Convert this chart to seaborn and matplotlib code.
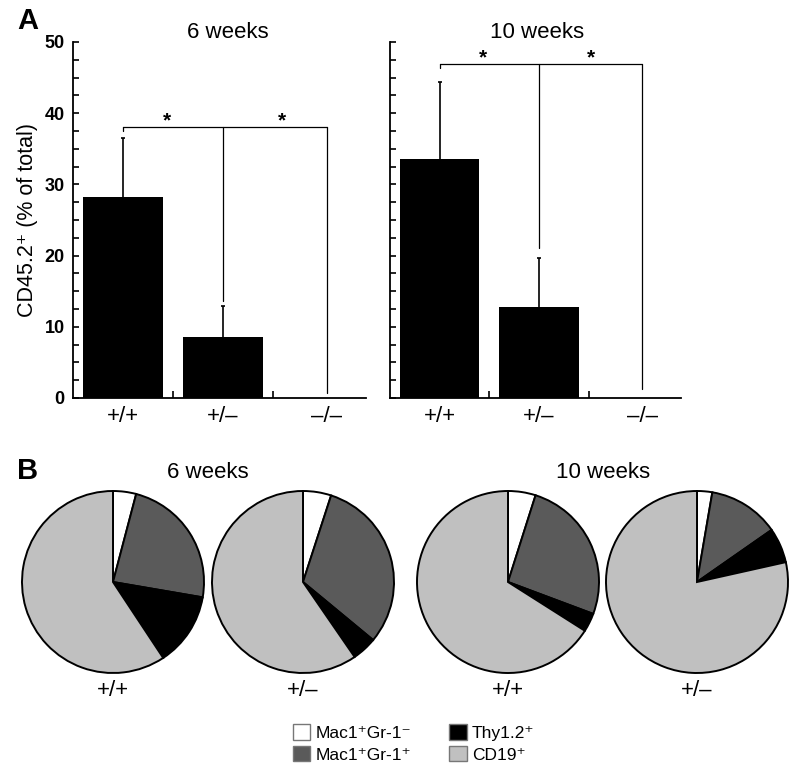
import matplotlib
matplotlib.use("Agg")
import matplotlib.pyplot as plt
import seaborn as sns
from matplotlib.patches import Patch
from matplotlib.ticker import MultipleLocator, FixedLocator

# ---------------- data ----------------
genotypes = ["+/+", "+/–", "–/–"]
week_titles = ["6 weeks", "10 weeks"]

cd45_6wk = [28.3, 8.5, 0.0]
err_6wk = [8.2, 4.4, 0.0]
cd45_10wk = [33.6, 12.8, 0.0]
err_10wk = [10.8, 6.9, 0.0]

# significance brackets: bracket height, arm bottoms, star height
bracket_y = [38.1, 46.9]
arm_bottoms_6wk = [37.5, 13.6, 0.7]
arm_bottoms_10wk = [46.3, 21.0, 1.2]
star_y = [38.9, 47.8]

pie_genotypes = ["+/+", "+/–", "+/+", "+/–"]
subsets = ["Mac1⁺Gr-1⁻", "Mac1⁺Gr-1⁺", "Thy1.2⁺", "CD19⁺"]
pie_6wk_wt = [4.1, 23.6, 13.0, 59.3]
pie_6wk_het = [5.0, 31.0, 4.4, 59.6]
pie_10wk_wt = [4.9, 25.8, 3.3, 66.0]
pie_10wk_het = [2.7, 12.6, 6.2, 78.5]
pie_colors = ["#ffffff", "#5a5a5a", "#000000", "#c0c0c0"]

# ---------------- style ----------------
sns.set_theme(style="white")
plt.rcParams["font.family"] = ["Liberation Sans", "DejaVu Sans"]
plt.rcParams["axes.edgecolor"] = "black"
plt.rcParams["text.color"] = "black"
plt.rcParams["xtick.color"] = "black"
plt.rcParams["ytick.color"] = "black"

W, H = 798, 783
fig = plt.figure(figsize=(W / 100, H / 100), dpi=100)
fig.patch.set_facecolor("white")


def rect(x0, y0, x1, y1):
    return [x0 / W, 1 - y1 / H, (x1 - x0) / W, (y1 - y0) / H]


def fx(x):
    return x / W


def fy(y):
    return 1 - y / H


# ---------------- panel A ----------------
bar_sets = [(cd45_6wk, err_6wk, arm_bottoms_6wk), (cd45_10wk, err_10wk, arm_bottoms_10wk)]
axes_rects = [rect(73, 42, 366, 398), rect(390, 42, 681, 398)]
star_x = [[0.44, 1.59], [0.44, 1.52]]
right_arm_x = 2.04

for k, ((vals, errs, arms), r) in enumerate(zip(bar_sets, axes_rects)):
    ax = fig.add_axes(r)
    sns.barplot(x=genotypes, y=vals, ax=ax, color="black", saturation=1,
                width=0.8, errorbar=None, linewidth=0)
    for i, (v, e) in enumerate(zip(vals, errs)):
        if e > 0:
            _, caps, _ = ax.errorbar(i, v, yerr=[[0], [e]], fmt="none", ecolor="black",
                                     elinewidth=1.2, capsize=1.5, capthick=1.2)
            for c in caps:
                if c.get_ydata()[0] <= v + 1e-9:
                    c.set_visible(False)
    # bracket
    by = bracket_y[k]
    ax.plot([0, right_arm_x], [by, by], color="black", lw=0.9)
    ax.plot([0, 0], [arms[0], by], color="black", lw=0.9)
    ax.plot([1, 1], [arms[1], by], color="black", lw=0.9)
    ax.plot([right_arm_x, right_arm_x], [arms[2], by], color="black", lw=0.9)
    for sx in star_x[k]:
        ax.text(sx, star_y[k], "*", ha="center", va="center",
                fontsize=15, fontweight="bold")

    ax.set_xlim(-0.5, 2.43)
    ax.set_ylim(0, 50)
    ax.set_xlabel("")
    ax.set_ylabel("")
    ax.set_yticks(range(0, 51, 10))
    ax.yaxis.set_minor_locator(MultipleLocator(2.5))
    ax.set_xticks([0, 1, right_arm_x])
    ax.set_xticklabels(genotypes, fontsize=16)
    ax.xaxis.set_minor_locator(FixedLocator([0.5, 1.5]))
    ax.tick_params(axis="x", which="major", length=0, pad=6)
    ax.tick_params(axis="x", which="minor", direction="in", length=5, width=1.2, bottom=True)
    ax.tick_params(axis="y", which="both", direction="in", length=4.5, width=1.2, left=True)
    if k == 0:
        for lab in ax.get_yticklabels():
            lab.set_fontweight("bold")
            lab.set_fontsize(13)
        ax.tick_params(axis="y", pad=6)
    else:
        ax.tick_params(axis="y", labelleft=False)
    for s in ["top", "right"]:
        ax.spines[s].set_visible(False)
    for s in ["left", "bottom"]:
        ax.spines[s].set_linewidth(1.3)
        ax.spines[s].set_color("black")
    ax.grid(False)
    ax.set_facecolor("white")

fig.text(fx(228), fy(32), week_titles[0], ha="center", va="center", fontsize=16)
fig.text(fx(537), fy(32), week_titles[1], ha="center", va="center", fontsize=16)
fig.text(fx(28), fy(220), "CD45.2⁺ (% of total)", rotation=90, ha="center",
         va="center", fontsize=15.5)
fig.text(fx(28), fy(21), "A", ha="center", va="center", fontsize=21, fontweight="bold")

# ---------------- panel B ----------------
fig.text(fx(28), fy(471), "B", ha="center", va="center", fontsize=21, fontweight="bold")
fig.text(fx(208), fy(472), week_titles[0], ha="center", va="center", fontsize=16)
fig.text(fx(603), fy(472), week_titles[1], ha="center", va="center", fontsize=16)

pies = [pie_6wk_wt, pie_6wk_het, pie_10wk_wt, pie_10wk_het]
pie_cx = [113, 303, 508, 697]
pie_cy = 582
rad = 91
for vals, cx, lab in zip(pies, pie_cx, pie_genotypes):
    pax = fig.add_axes(rect(cx - rad * 1.03, pie_cy - rad * 1.03, cx + rad * 1.03, pie_cy + rad * 1.03))
    wedges, _ = pax.pie(vals, colors=pie_colors, startangle=90, counterclock=False,
                        radius=1, wedgeprops=dict(edgecolor="black", linewidth=1.4))
    pax.set_xlim(-1.03, 1.03)
    pax.set_ylim(-1.03, 1.03)
    pax.set_aspect("equal")
    pax.axis("off")
    fig.text(fx(cx), fy(690), lab, ha="center", va="center", fontsize=16)

handles = [Patch(facecolor=c, edgecolor="#777777", linewidth=1.0) for c in pie_colors]
fig.legend(handles, subsets, ncol=2, loc="upper left",
           bbox_to_anchor=(fx(293), fy(724)), frameon=False, fontsize=12.5,
           handlelength=1.0, handleheight=1.0, handletextpad=0.3,
           columnspacing=2.2, labelspacing=0.3, borderpad=0, borderaxespad=0)

fig.savefig("out.png", dpi=100, facecolor="white")
